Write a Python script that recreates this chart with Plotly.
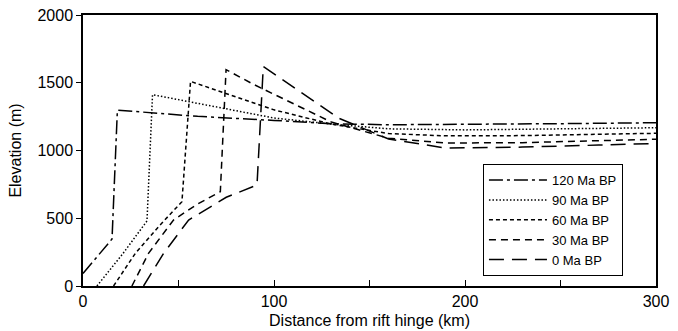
import plotly.graph_objects as go

# Distance from rift hinge (km) and elevation (m) for each time slice
x_120 = [0, 15.2, 18, 60, 100, 130, 160, 200, 250, 300]
y_120 = [92, 347, 1298, 1252, 1222, 1198, 1190, 1192, 1198, 1205]

x_90 = [7.3, 21, 33.5, 36.4, 60, 100, 130, 160, 200, 250, 300]
y_90 = [0, 241, 480, 1412, 1348, 1240, 1195, 1160, 1152, 1158, 1168]

x_60 = [16, 27.4, 40, 51.8, 56.3, 100, 130, 160, 190, 230, 300]
y_60 = [0, 241, 445, 622, 1510, 1300, 1195, 1125, 1108, 1110, 1127]

x_30 = [25.6, 34.3, 47.4, 60, 71.9, 74.9, 89, 130, 160, 190, 230, 300]
y_30 = [0, 241, 487, 605, 696, 1597, 1490, 1210, 1090, 1055, 1058, 1083]

x_0 = [31.7, 42.2, 55.3, 75, 91.1, 94.4, 134, 160, 190, 230, 270, 300]
y_0 = [0, 241, 487, 655, 745, 1620, 1238, 1085, 1018, 1025, 1040, 1052]

series_names = ["120 Ma BP", "90 Ma BP", "60 Ma BP", "30 Ma BP", "0 Ma BP"]

x_tick_vals = [0, 50, 100, 150, 200, 250, 300]
x_tick_text = ["0", "", "100", "", "200", "", "300"]
y_tick_vals = [0, 500, 1000, 1500, 2000]
y_tick_text = ["0", "500", "1000", "1500", "2000"]

FONT = "Liberation Sans, Arial, Helvetica, sans-serif"
dashes = ["14px,4px,3px,4px", "1.5px,2px", "4px,3px", "7px,5px", "15px,8px"]
xs = [x_120, x_90, x_60, x_30, x_0]
ys = [y_120, y_90, y_60, y_30, y_0]

fig = go.Figure()
for name, xv, yv, d in zip(series_names, xs, ys, dashes):
    fig.add_trace(go.Scatter(
        x=xv, y=yv, mode="lines", name=name,
        line=dict(color="black", width=1.5, dash=d),
    ))

fig.update_layout(
    width=678, height=331,
    margin=dict(l=83, r=22, t=15, b=45, autoexpand=False),
    paper_bgcolor="white", plot_bgcolor="white",
    font=dict(family=FONT, size=16, color="black"),
    showlegend=True,
    legend=dict(
        x=0.698, y=0.45, xanchor="left", yanchor="top",
        bordercolor="black", borderwidth=1, bgcolor="white",
        font=dict(family=FONT, size=13, color="black"),
        itemwidth=58, tracegroupgap=0,
    ),
)
fig.update_xaxes(
    range=[0, 300], tickmode="array", tickvals=x_tick_vals, ticktext=x_tick_text,
    ticks="inside", ticklen=6, tickcolor="black", tickwidth=1.2,
    showline=True, linecolor="black", linewidth=1.5, mirror=True,
    showgrid=False, zeroline=False,
    title=dict(text="Distance from rift hinge (km)", standoff=6, font=dict(size=16)),
    tickfont=dict(size=16),
)
fig.update_yaxes(
    range=[0, 2000], tickmode="array", tickvals=y_tick_vals, ticktext=y_tick_text,
    ticks="outside", ticklen=5, tickcolor="black", tickwidth=1.2,
    showline=True, linecolor="black", linewidth=1.5, mirror=True,
    showgrid=False, zeroline=False,
    title=dict(text="Elevation (m)", standoff=12, font=dict(size=16)),
    tickfont=dict(size=16),
)

fig.write_html(
    "out.html",
    config={"displayModeBar": False},
    post_script="document.body.style.margin='0px';document.body.style.overflow='hidden';",
)
